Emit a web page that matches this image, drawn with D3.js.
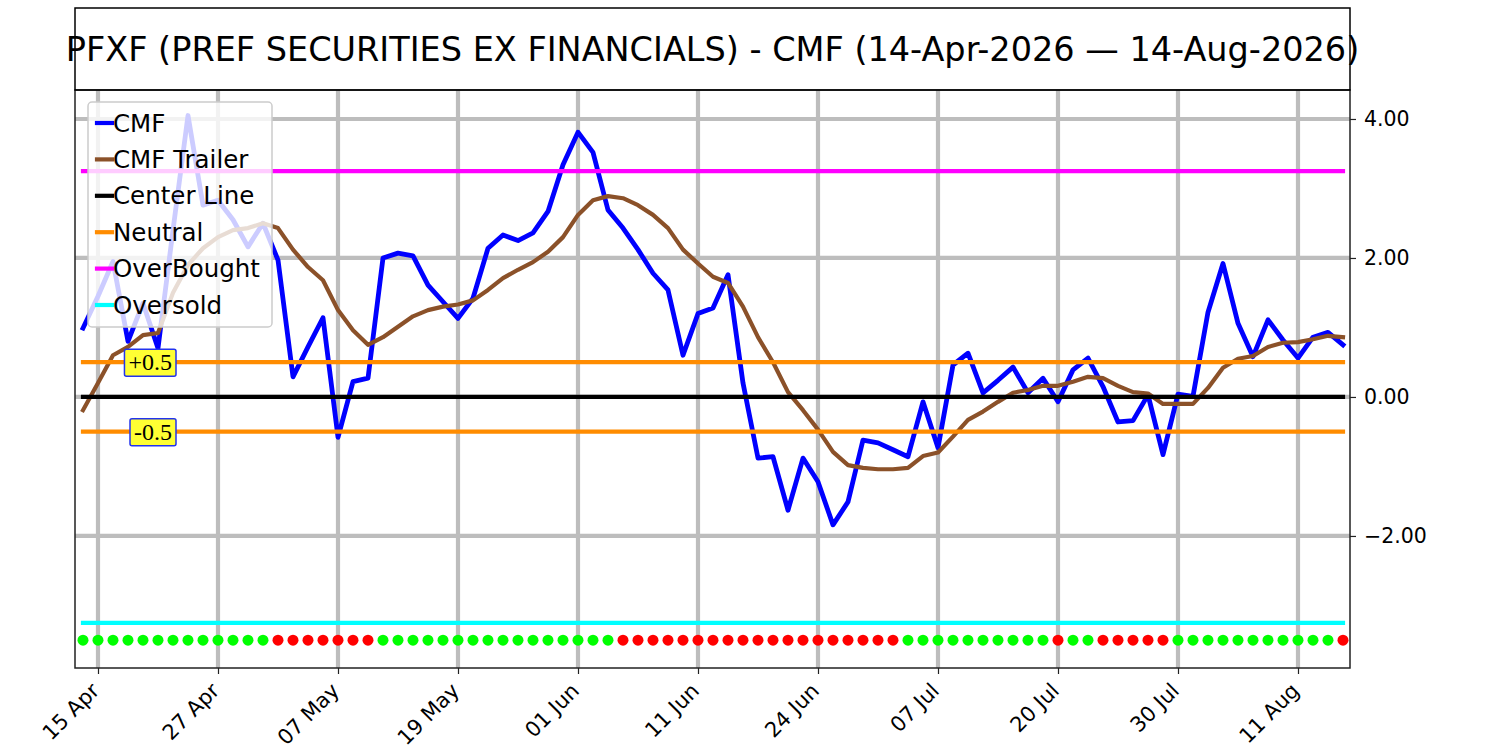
<!DOCTYPE html>
<html lang="en">
  <head>
    <meta charset="utf-8" />
    <title>PFXF CMF</title>
    <script src="https://d3js.org/d3.v7.min.js"></script>
    <style>
      body { margin: 0; background: #fff; }
      text { font-family: "DejaVu Sans", sans-serif; }
    </style>
  </head>
  <body>
    <script type="text/javascript">
      // values, one per trading day (14 Apr .. 14 Aug)
      const cmf = [
        0.99, 1.45, 1.95, 0.8, 1.35, 0.7, 2.4, 4.05, 2.76, 2.83,
        2.55, 2.16, 2.5, 1.97, 0.29, 0.72, 1.14, -0.58, 0.22, 0.27,
        2.0, 2.07, 2.03, 1.61, 1.37, 1.13, 1.42, 2.14, 2.33, 2.25,
        2.36, 2.67, 3.34, 3.81, 3.52, 2.69, 2.43, 2.12, 1.78, 1.54,
        0.6, 1.2, 1.28, 1.76, 0.2, -0.88, -0.86, -1.63, -0.88, -1.22,
        -1.84, -1.51, -0.62, -0.66, -0.76, -0.86, -0.07, -0.73, 0.46, 0.63,
        0.06, 0.24, 0.43, 0.06, 0.27, -0.07, 0.39, 0.56, 0.15, -0.36,
        -0.34, 0.03, -0.83, 0.04, 0.01, 1.22, 1.92, 1.06, 0.58, 1.11,
        0.82, 0.56, 0.86, 0.93, 0.75,
      ];
      const trailer = [
        -0.19, 0.2, 0.6, 0.72, 0.89, 0.92, 1.5, 1.9, 2.14, 2.3,
        2.4, 2.43, 2.5, 2.43, 2.12, 1.87, 1.68, 1.25, 0.96, 0.75,
        0.86, 1.01, 1.16, 1.25, 1.3, 1.33, 1.39, 1.54, 1.71, 1.83,
        1.94, 2.09, 2.3, 2.62, 2.83, 2.89, 2.86, 2.76, 2.62, 2.43,
        2.12, 1.92, 1.73, 1.64, 1.3, 0.86, 0.5, 0.07, -0.19, -0.47,
        -0.79, -0.98, -1.02, -1.04, -1.04, -1.02, -0.85, -0.8, -0.57, -0.33,
        -0.21, -0.07, 0.06, 0.1, 0.16, 0.16, 0.22, 0.29, 0.27, 0.16,
        0.07, 0.05, -0.1, -0.1, -0.1, 0.13, 0.42, 0.55, 0.59, 0.72,
        0.78, 0.79, 0.83, 0.88, 0.86,
      ];
      // 1 = green dot, 0 = red dot
      const signal = [
        1, 1, 1, 1, 1, 1, 1, 1, 1, 1, 1, 1, 1, 0, 0, 0, 0, 0, 0, 0,
        1, 1, 1, 1, 1, 1, 1, 1, 1, 1, 1, 1, 1, 1, 1, 1, 0, 0, 0, 0,
        0, 0, 0, 0, 0, 0, 0, 0, 0, 0, 0, 0, 0, 0, 0, 1, 1, 1, 1, 1,
        1, 1, 1, 1, 1, 0, 1, 1, 0, 0, 0, 0, 0, 1, 1, 1, 1, 1, 1, 1,
        1, 1, 1, 1, 0,
      ];
      const tickLabels = ["15 Apr", "27 Apr", "07 May", "19 May", "01 Jun", "11 Jun",
        "24 Jun", "07 Jul", "20 Jul", "30 Jul", "11 Aug"];
      const tickIndex = [1, 9, 17, 25, 33, 41, 49, 57, 65, 73, 81];
      const yTicks = [4, 2, 0, -2];

      const centerLine = 0;
      const neutral = [0.5, -0.5];
      const overBought = 3.25;
      const overSold = -3.25;
      const dotLevel = -3.5;

      const title = "PFXF (PREF SECURITIES EX FINANCIALS) - CMF (14-Apr-2026 \u2014 14-Aug-2026)";

      //Width and height
      const w = 1500;
      const h = 750;
      const pLeft = 75, pRight = 1350, pTop = 90, pBottom = 668;

      const n = cmf.length;
      let xScale = d3.scaleLinear().domain([-0.533, 84.467]).range([pLeft, pRight]);
      let yScale = d3.scaleLinear().domain([-3.9, 4.417]).range([pBottom, pTop]);

      let svg = d3.select("body").append("svg").attr("width", w).attr("height", h);

      // grid
      let grid = svg.append("g");
      grid.selectAll("line.vg")
        .data(tickIndex)
        .enter()
        .append("line")
        .attr("class", "vg")
        .attr("x1", (d) => xScale(d))
        .attr("x2", (d) => xScale(d))
        .attr("y1", pTop)
        .attr("y2", pBottom)
        .attr("stroke", "#bdbdbd")
        .attr("stroke-width", 4.2);
      grid.selectAll("line.hg")
        .data(yTicks)
        .enter()
        .append("line")
        .attr("class", "hg")
        .attr("x1", pLeft)
        .attr("x2", pRight)
        .attr("y1", (d) => yScale(d))
        .attr("y2", (d) => yScale(d))
        .attr("stroke", "#bdbdbd")
        .attr("stroke-width", 4.2);

      const idx = d3.range(n);
      let line = (arr) =>
        d3.line().x((d, i) => xScale(i)).y((d) => yScale(d))(arr);

      function series(arr, color, lw) {
        svg.append("path")
          .attr("d", line(arr))
          .attr("fill", "none")
          .attr("stroke", color)
          .attr("stroke-width", lw)
          .attr("stroke-linejoin", "round")
          .attr("stroke-linecap", "square");
      }

      series(cmf, "#0000ff", 4.8);
      series(trailer, "#8b5129", 4.2);
      series(idx.map(() => centerLine), "#000000", 4.2);
      series(idx.map(() => neutral[0]), "#ff8c00", 4.2);
      series(idx.map(() => neutral[1]), "#ff8c00", 4.2);
      series(idx.map(() => overBought), "#ff00ff", 4.2);
      series(idx.map(() => overSold), "#00ffff", 4.2);

      svg.selectAll("circle.dot")
        .data(signal)
        .enter()
        .append("circle")
        .attr("class", "dot")
        .attr("cx", (d, i) => xScale(i))
        .attr("cy", yScale(dotLevel))
        .attr("r", 5.5)
        .attr("fill", (d) => (d ? "#00ff00" : "#ff0000"));

      // +0.5 / -0.5 tags
      const tags = [
        { v: neutral[0], t: "+0.5" },
        { v: neutral[1], t: "-0.5" },
      ];
      tags.forEach((tg) => {
        let g = svg.append("g");
        let txt = g.append("text")
          .text(tg.t)
          .attr("x", 172)
          .attr("y", yScale(tg.v))
          .attr("text-anchor", "end")
          .attr("dominant-baseline", "central")
          .style("font-family", "'Liberation Serif', 'DejaVu Serif', serif")
          .style("font-size", "24px")
          .attr("fill", "#000");
        let bb = txt.node().getBBox();
        g.insert("rect", "text")
          .attr("x", bb.x - 4)
          .attr("y", bb.y)
          .attr("width", bb.width + 8)
          .attr("height", bb.height + 1)
          .attr("rx", 2)
          .attr("fill", "#ffff33")
          .attr("stroke", "#2233ee")
          .attr("stroke-width", 1.5);
      });

      // legend
      const legendItems = [
        ["CMF", "#0000ff"],
        ["CMF Trailer", "#8b5129"],
        ["Center Line", "#000000"],
        ["Neutral", "#ff8c00"],
        ["OverBought", "#ff00ff"],
        ["Oversold", "#00ffff"],
      ];
      let lg = svg.append("g");
      lg.append("rect")
        .attr("x", 88)
        .attr("y", 102)
        .attr("width", 184)
        .attr("height", 225)
        .attr("rx", 4)
        .attr("fill", "#fff")
        .attr("fill-opacity", 0.8)
        .attr("stroke", "#cccccc")
        .attr("stroke-width", 1.5);
      legendItems.forEach((it, i) => {
        let yy = 123 + i * 36.4;
        lg.append("line")
          .attr("x1", 97).attr("x2", 112)
          .attr("y1", yy).attr("y2", yy)
          .attr("stroke", it[1])
          .attr("stroke-width", 4.2)
          .attr("stroke-linecap", "square");
        lg.append("text")
          .text(it[0])
          .attr("x", 113)
          .attr("y", yy)
          .attr("dominant-baseline", "central")
          .style("font-size", "24.5px")
          .attr("fill", "#000");
      });

      // frame
      svg.append("rect")
        .attr("x", pLeft).attr("y", pTop)
        .attr("width", pRight - pLeft).attr("height", pBottom - pTop)
        .attr("fill", "none").attr("stroke", "#222").attr("stroke-width", 1.5);

      // title box
      svg.append("rect")
        .attr("x", pLeft).attr("y", 8)
        .attr("width", pRight - pLeft).attr("height", pTop - 8)
        .attr("fill", "none").attr("stroke", "#000").attr("stroke-width", 1.5);
      svg.append("text")
        .text(title)
        .attr("x", (pLeft + pRight) / 2)
        .attr("y", 49)
        .attr("text-anchor", "middle")
        .attr("dominant-baseline", "central")
        .style("font-size", "33.5px")
        .attr("fill", "#000");

      // right axis
      let yAxis = d3.axisRight(yScale)
        .tickValues(yTicks)
        .tickFormat(d3.format(".2f"))
        .tickSize(6)
        .tickPadding(8);
      let ya = svg.append("g")
        .attr("transform", "translate(" + pRight + ",0)")
        .call(yAxis);
      ya.attr("font-size", null).attr("font-family", null);
      ya.select(".domain").remove();
      ya.selectAll("text")
        .style("font-size", "20.5px")
        .attr("fill", "#000");
      ya.selectAll("line").attr("stroke", "#222").attr("stroke-width", 1.2);

      // bottom axis
      let xAxis = d3.axisBottom(xScale)
        .tickValues(tickIndex)
        .tickFormat((d, i) => tickLabels[i])
        .tickSize(6);
      let xa = svg.append("g")
        .attr("transform", "translate(0," + pBottom + ")")
        .call(xAxis);
      xa.attr("font-size", null).attr("font-family", null);
      xa.select(".domain").remove();
      xa.selectAll("line").attr("stroke", "#222").attr("stroke-width", 1.2);
      xa.selectAll("text")
        .style("font-size", "21px")
        .attr("fill", "#000")
        .attr("text-anchor", "end")
        .attr("dy", null)
        .attr("y", 0)
        .attr("transform", "translate(2,24) rotate(-45)");
    </script>
  </body>
</html>
